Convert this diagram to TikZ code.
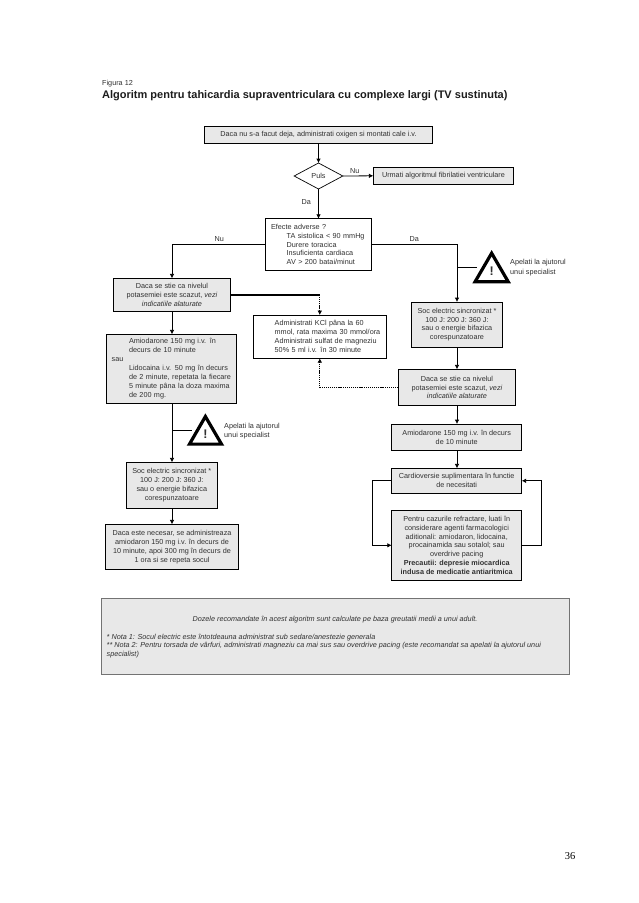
\documentclass[tikz,border=0pt]{standalone}
\usepackage{fontspec}
\setmainfont{Liberation Sans}
\newfontfamily\pagefont{Liberation Serif}
\usetikzlibrary{arrows.meta,shapes.geometric}
\definecolor{boxgray}{HTML}{E8E8E8}
\definecolor{inkgray}{HTML}{303030}
\tikzset{
  plain/.style={draw=black,line width=0.7pt,anchor=north west,inner sep=0pt,outer sep=0pt,
    font=\fontsize{7.25}{8.9}\selectfont,text=inkgray,align=center},
  graybox/.style={plain,fill=boxgray},
  whitebox/.style={plain,fill=white},
  flow/.style={line width=0.8pt,-{Latex[length=4.4pt,width=4.6pt]}},
  flowplain/.style={line width=0.8pt},
  dotflow/.style={line width=0.7pt,dash pattern=on 1.2pt off 0.9pt,-{Latex[length=4.4pt,width=4.6pt]}},
  lab/.style={font=\fontsize{7.25}{8.9}\selectfont,text=inkgray,inner sep=0pt},
  warn/.style={draw=black,line width=3.2pt,fill=white,miter limit=10,line join=miter},
  bang/.style={font=\bfseries\fontsize{12.5}{12.5}\selectfont,text=inkgray,inner sep=0pt},
}
\begin{document}
\begin{tikzpicture}[x=1pt,y=-1pt]
\useasboundingbox (0,0) rectangle (638,903);
\fill[white] (0,0) rectangle (638,903);

\node[lab,anchor=base west] (fig) at (102,85) {Figura 12};
\node[anchor=base west,inner sep=0pt,text=inkgray!60!black,font=\bfseries\fontsize{11}{14}\selectfont] (title) at (102,98.5)
  {Algoritm pentru tahicardia supraventriculara cu complexe largi (TV sustinuta)};

\node[graybox,minimum width=228.4pt,minimum height=16.7pt] (top) at (204.3,126.3)
  {Daca nu s-a facut deja, administrati oxigen si montati cale i.v.};
\node[diamond,draw=black,line width=0.7pt,fill=white,aspect=1.87,inner sep=0pt,outer sep=0pt,
  minimum width=48.7pt,minimum height=26pt,font=\fontsize{7.25}{8.9}\selectfont,text=inkgray] (puls) at (318.5,176) {Puls};
\node[graybox,minimum width=140.4pt,minimum height=17pt] (vf) at (373.3,167.3)
  {Urmati algoritmul fibrilatiei ventriculare};
\node[whitebox,text width=95.4pt,inner xsep=5.3pt,align=left,minimum height=51.6pt] (efecte) at (265.7,218.7)
  {Efecte adverse ?\\
   \hspace*{15.7pt}TA sistolica < 90 mmHg\\
   \hspace*{15.7pt}Durere toracica\\
   \hspace*{15.7pt}Insuficienta cardiaca\\
   \hspace*{15.7pt}AV > 200 batai/minut};

\node[graybox,minimum width=117.4pt,minimum height=33pt] (kleft) at (113.3,278.3)
  {Daca se stie ca nivelul\\potasemiei este scazut, \textit{vezi}\\\textit{indicatiile alaturate}};
\node[graybox,text width=119.6pt,inner xsep=5.4pt,inner ysep=0pt,align=left,minimum height=69pt] (amio) at (106.3,334.3)
  {\hspace*{17.3pt}Amiodarone 150 mg i.v. în\\
   \hspace*{17.3pt}decurs de 10 minute\\
   sau\\
   \hspace*{17.3pt}Lidocaina i.v. 50 mg în decurs\\
   \hspace*{17.3pt}de 2 minute, repetata la fiecare\\
   \hspace*{17.3pt}5 minute pâna la doza maxima\\
   \hspace*{17.3pt}de 200 mg.};
\node[graybox,minimum width=91pt,minimum height=46pt] (socl) at (126.3,462.3)
  {Soc electric sincronizat *\\100 J: 200 J: 360 J:\\sau o energie bifazica\\corespunzatoare};
\node[graybox,minimum width=133.4pt,minimum height=45pt] (dacal) at (105.3,524.3)
  {Daca este necesar, se administreaza\\amiodaron 150 mg i.v. în decurs de\\10 minute, apoi 300 mg în decurs de\\1 ora si se repeta socul};
\node[whitebox,text width=123pt,inner xsep=5pt,align=left,minimum height=43.3pt] (kcl) at (253.3,315)
  {\hspace*{16.4pt}Administrati KCl pâna la 60\\
   \hspace*{16.4pt}mmol, rata maxima 30 mmol/ora\\
   \hspace*{16.4pt}Administrati sulfat de magneziu\\
   \hspace*{16.4pt}50\% 5 ml i.v. în 30 minute};

\node[graybox,minimum width=90.6pt,minimum height=45.3pt] (socr) at (411.7,302)
  {Soc electric sincronizat *\\100 J: 200 J: 360 J:\\sau o energie bifazica\\corespunzatoare};
\node[graybox,minimum width=117.4pt,minimum height=36.4pt] (kright) at (398.3,369.3)
  {Daca se stie ca nivelul\\potasemiei este scazut, \textit{vezi}\\\textit{indicatiile alaturate}};
\node[graybox,minimum width=130pt,minimum height=26.3pt] (amior) at (391.7,424)
  {Amiodarone 150 mg i.v. în decurs\\de 10 minute};
\node[graybox,minimum width=130pt,minimum height=25pt] (cardio) at (391.7,468.3)
  {Cardioversie suplimentara în functie\\de necesitati};
\node[graybox,minimum width=130pt,minimum height=70pt] (refr) at (391.7,510.3)
  {Pentru cazurile refractare, luati în\\considerare agenti farmacologici\\aditionali: amiodaron, lidocaina,\\procainamida sau sotalol; sau\\overdrive pacing\\\textbf{Precautii: depresie miocardica}\\\textbf{indusa de medicatie antiaritmica}};

\node[draw=black!55,line width=0.9pt,fill=boxgray,anchor=north west,minimum width=468pt,minimum height=76pt,inner sep=0pt] (notes) at (100.7,598.3) {};
\node[lab,anchor=base,font=\itshape\fontsize{7.25}{8.9}\selectfont] (n0) at (335,621)
  {Dozele recomandate în acest algoritm sunt calculate pe baza greutatii medii a unui adult.};
\node[lab,anchor=base west,font=\itshape\fontsize{7.25}{8.9}\selectfont] (n1) at (106.5,639)
  {* Nota 1: Socul electric este întotdeauna administrat sub sedare/anestezie generala};
\node[lab,anchor=base west,font=\itshape\fontsize{7.25}{8.9}\selectfont] (n2) at (106.5,647)
  {** Nota 2: Pentru torsada de vârfuri, administrati magneziu ca mai sus sau overdrive pacing (este recomandat sa apelati la ajutorul unui};
\node[lab,anchor=base west,font=\itshape\fontsize{7.25}{8.9}\selectfont] (n3) at (106.5,656.5) {specialist)};

% warning signs
\draw[warn] (205.4,416.5) -- (221.5,444.1) -- (189.5,444.1) -- cycle;
\coordinate (warnL) at (191.7,430.3);
\node[bang] (bangL) at (205.4,434.3) {!};
\draw[warn] (491.65,253.2) -- (508.2,281.7) -- (475.1,281.7) -- cycle;
\coordinate (warnR) at (476.7,267);
\node[bang] (bangR) at (491.65,271.3) {!};
\node[lab,anchor=base west,align=left] (apL1) at (224,428) {Apelati la ajutorul};
\node[lab,anchor=base west,align=left] (apL2) at (224,437.5) {unui specialist};
\node[lab,anchor=base west,align=left] (apR1) at (510,264.5) {Apelati la ajutorul};
\node[lab,anchor=base west,align=left] (apR2) at (510,274) {unui specialist};

% connectors
\draw[flow] (top.south) -- (puls.north);
\draw[flow] (puls.east) -- (vf.west);
\draw[flow] (puls.south) -- (efecte.north -| puls.south);
\draw[flow] (efecte.west) -| (kleft.north);
\draw[flow] (efecte.east) -| (socr.north);
\draw[flow] (kleft.south) -- (kleft.south |- amio.north);
\draw[flow] (amio.south -| kleft.south) -- (kleft.south |- socl.north);
\draw[flow] (socl.south -| kleft.south) -- (kleft.south |- dacal.north);
\draw[flowplain] (warnL -| kleft.south) -- (warnL);
\draw[flowplain] (warnR -| socr.north) -- (warnR);
\draw[flow] (socr.south) -- (kright.north);
\draw[flow] (kright.south) -- (socr.south |- amior.north);
\draw[flow] (amior.south -| socr.south) -- (socr.south |- cardio.north);
\coordinate (kbend) at (kcl.north |- kleft.east);
\draw[line width=1.8pt] (kleft.east) -- (kbend);
\draw[dotflow] (kbend) -- (kcl.north);
\draw[dotflow] (kright.west) -| (kcl.south);
\coordinate (loopL) at (372.3,480.7);
\coordinate (loopR) at (541.3,545);
\draw[flow] (cardio.west) -- (cardio.west -| loopL) -- (loopL |- refr.west) -- (refr.west);
\draw[flow] (refr.east) -- (refr.east -| loopR) -- (loopR |- cardio.east) -- (cardio.east);

\node[lab] (nu1) at (354.7,170.7) {Nu};
\node[lab] (da1) at (306.3,201.7) {Da};
\node[lab] (nu2) at (219.3,239) {Nu};
\node[lab] (da2) at (414.3,239) {Da};

\node[anchor=base,inner sep=0pt,font=\pagefont\fontsize{10.5}{12}\selectfont] (pg) at (570,859) {36};
\end{tikzpicture}
\end{document}
